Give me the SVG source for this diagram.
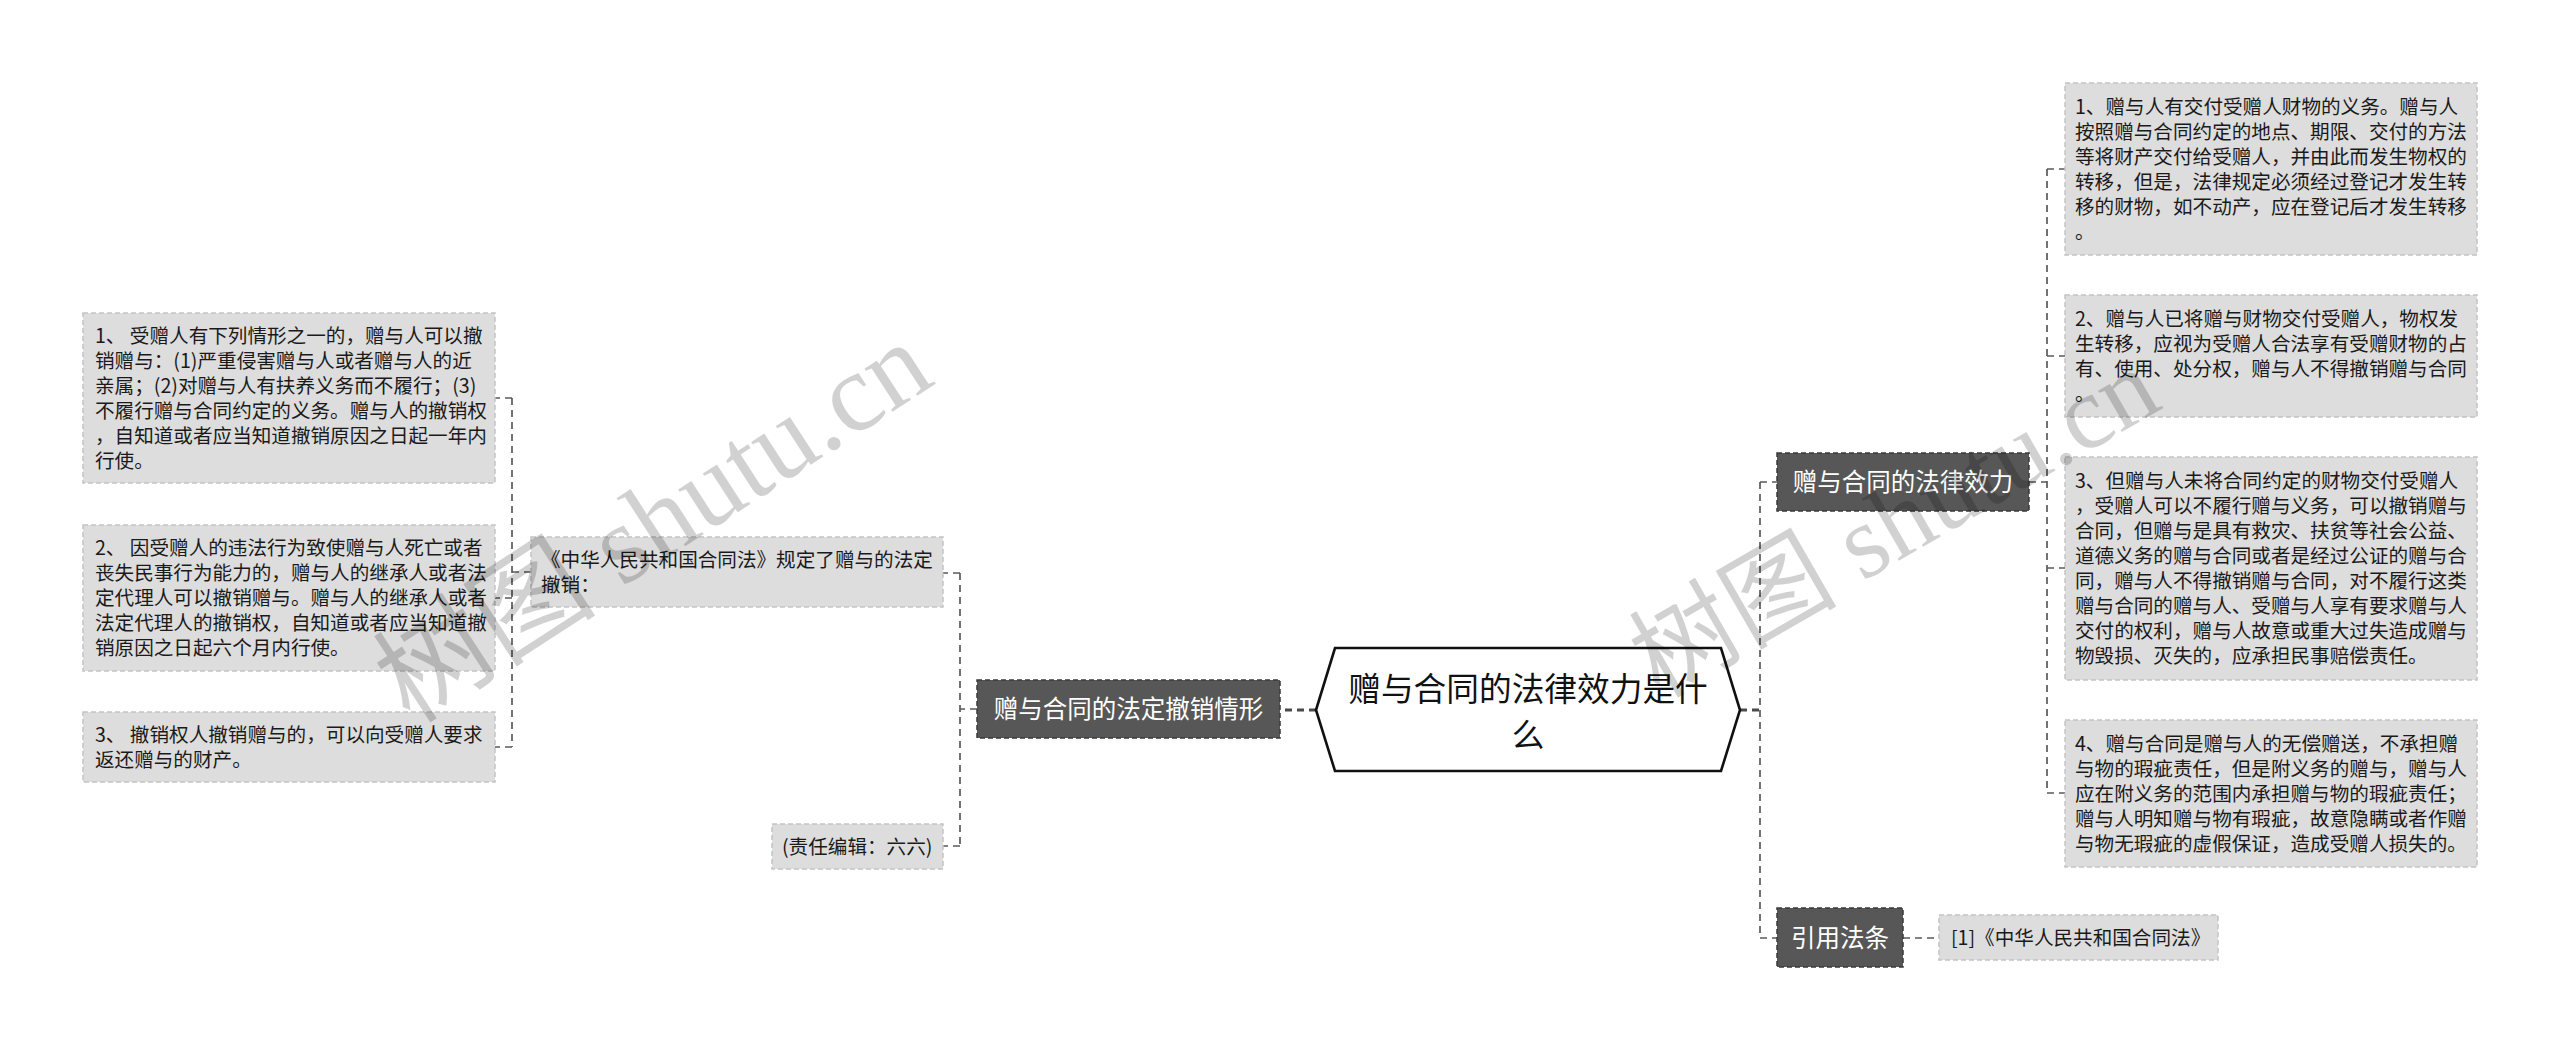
<svg xmlns="http://www.w3.org/2000/svg" width="2560" height="1051" viewBox="0 0 2560 1051">
<defs>
<style>
.bg{fill:#ffffff}
.leaf rect{fill:#dddddd;stroke:#c4c4c4;stroke-width:1.5;stroke-dasharray:5 3}
.leaf text{font-family:"Noto Sans CJK SC","Noto Sans",sans-serif;font-size:19.6px;fill:#1a1a1a}
.branch rect{fill:#575757;stroke:#3a3a3a;stroke-width:1.5;stroke-dasharray:5 3}
.branch text{font-family:"Noto Sans CJK SC","Noto Sans",sans-serif;font-size:24.5px;fill:#ffffff;text-anchor:middle}
.root polygon{fill:#ffffff;stroke:#111111;stroke-width:2.6}
.root text{font-family:"Noto Sans CJK SC","Noto Sans",sans-serif;font-size:32.7px;fill:#111111;text-anchor:middle}
.conn path{fill:none;stroke:#5a5a5a;stroke-width:1.7;stroke-dasharray:7 5}
.conn path.main{stroke:#4a4a4a;stroke-width:3}
.wm{font-family:"Liberation Serif","Noto Sans CJK SC",serif;fill:#000000;fill-opacity:0.18}
</style>
</defs>
<rect class="bg" x="0" y="0" width="2560" height="1051"/>

<g id="connectors" class="conn">
<path class="main" d="M1316,710 H1280"/>
<path d="M977,709 H960 M960,573 V846 M960,573 H943 M960,846 H943"/>
<path d="M531,572 H512 M512,398 V747 M512,398 H495 M512,598 H495 M512,747 H495"/>
<path class="main" d="M1740,710 H1760"/>
<path d="M1760,482 V938 M1760,482 H1777 M1760,938 H1777"/>
<path d="M1903,938 H1939"/>
<path d="M2029,482 H2047 M2047,169 V793 M2047,169 H2065 M2047,356 H2065 M2047,568 H2065 M2047,793 H2065"/>
</g>

<g id="root" class="root">
<polygon points="1316,710 1335,648 1721,648 1740,710 1721,771 1335,771"/>
<text x="1528" y="701">赠与合同的法律效力是什</text>
<text x="1528" y="747">么</text>
</g>

<g id="branch-revoke" class="branch">
<rect x="977" y="680" width="303" height="58"/>
<text x="1128.5" y="718">赠与合同的法定撤销情形</text>
</g>

<g id="branch-effect" class="branch">
<rect x="1777" y="453" width="252" height="58"/>
<text x="1903" y="491">赠与合同的法律效力</text>
</g>

<g id="branch-cite" class="branch">
<rect x="1777" y="908" width="126" height="59"/>
<text x="1840" y="947">引用法条</text>
</g>

<g id="node-law" class="leaf">
<rect x="531" y="537" width="412" height="70"/>
<text x="541" y="566.5">《中华人民共和国合同法》规定了赠与的法定</text>
<text x="541" y="591.5">撤销：</text>
</g>

<g id="node-editor" class="leaf">
<rect x="772" y="824" width="171" height="45"/>
<text x="782" y="854">(责任编辑：六六)</text>
</g>

<g id="node-l1" class="leaf">
<rect x="83" y="313" width="412" height="170"/>
<text x="95" y="342.5"><tspan x="95">1、 受赠人有下列情形之一的，赠与人可以撤</tspan><tspan x="95" dy="25">销赠与：(1)严重侵害赠与人或者赠与人的近</tspan><tspan x="95" dy="25">亲属；(2)对赠与人有扶养义务而不履行；(3)</tspan><tspan x="95" dy="25">不履行赠与合同约定的义务。赠与人的撤销权</tspan><tspan x="95" dy="25">，自知道或者应当知道撤销原因之日起一年内</tspan><tspan x="95" dy="25">行使。</tspan></text>
</g>

<g id="node-l2" class="leaf">
<rect x="83" y="525" width="412" height="146"/>
<text x="95" y="555"><tspan x="95">2、 因受赠人的违法行为致使赠与人死亡或者</tspan><tspan x="95" dy="25">丧失民事行为能力的，赠与人的继承人或者法</tspan><tspan x="95" dy="25">定代理人可以撤销赠与。赠与人的继承人或者</tspan><tspan x="95" dy="25">法定代理人的撤销权，自知道或者应当知道撤</tspan><tspan x="95" dy="25">销原因之日起六个月内行使。</tspan></text>
</g>

<g id="node-l3" class="leaf">
<rect x="83" y="712" width="412" height="70"/>
<text x="95" y="741.5"><tspan x="95">3、 撤销权人撤销赠与的，可以向受赠人要求</tspan><tspan x="95" dy="25">返还赠与的财产。</tspan></text>
</g>

<g id="node-r1" class="leaf">
<rect x="2065" y="83" width="412" height="172"/>
<text x="2075" y="113.5"><tspan x="2075">1、赠与人有交付受赠人财物的义务。赠与人</tspan><tspan x="2075" dy="25">按照赠与合同约定的地点、期限、交付的方法</tspan><tspan x="2075" dy="25">等将财产交付给受赠人，并由此而发生物权的</tspan><tspan x="2075" dy="25">转移，但是，法律规定必须经过登记才发生转</tspan><tspan x="2075" dy="25">移的财物，如不动产，应在登记后才发生转移</tspan><tspan x="2075" dy="25">。</tspan></text>
</g>

<g id="node-r2" class="leaf">
<rect x="2065" y="295" width="412" height="122"/>
<text x="2075" y="325.5"><tspan x="2075">2、赠与人已将赠与财物交付受赠人，物权发</tspan><tspan x="2075" dy="25">生转移，应视为受赠人合法享有受赠财物的占</tspan><tspan x="2075" dy="25">有、使用、处分权，赠与人不得撤销赠与合同</tspan><tspan x="2075" dy="25">。</tspan></text>
</g>

<g id="node-r3" class="leaf">
<rect x="2065" y="457" width="412" height="223"/>
<text x="2075" y="488"><tspan x="2075">3、但赠与人未将合同约定的财物交付受赠人</tspan><tspan x="2075" dy="25">，受赠人可以不履行赠与义务，可以撤销赠与</tspan><tspan x="2075" dy="25">合同，但赠与是具有救灾、扶贫等社会公益、</tspan><tspan x="2075" dy="25">道德义务的赠与合同或者是经过公证的赠与合</tspan><tspan x="2075" dy="25">同，赠与人不得撤销赠与合同，对不履行这类</tspan><tspan x="2075" dy="25">赠与合同的赠与人、受赠与人享有要求赠与人</tspan><tspan x="2075" dy="25">交付的权利，赠与人故意或重大过失造成赠与</tspan><tspan x="2075" dy="25">物毁损、灭失的，应承担民事赔偿责任。</tspan></text>
</g>

<g id="node-r4" class="leaf">
<rect x="2065" y="720" width="412" height="147"/>
<text x="2075" y="750.5"><tspan x="2075">4、赠与合同是赠与人的无偿赠送，不承担赠</tspan><tspan x="2075" dy="25">与物的瑕疵责任，但是附义务的赠与，赠与人</tspan><tspan x="2075" dy="25">应在附义务的范围内承担赠与物的瑕疵责任；</tspan><tspan x="2075" dy="25">赠与人明知赠与物有瑕疵，故意隐瞒或者作赠</tspan><tspan x="2075" dy="25">与物无瑕疵的虚假保证，造成受赠人损失的。</tspan></text>
</g>

<g id="node-cite" class="leaf">
<rect x="1939" y="915" width="279" height="45"/>
<text x="1951" y="945">[1]《中华人民共和国合同法》</text>
</g>

<g id="watermark">
<text class="wm" x="653" y="560" font-size="112" text-anchor="middle" transform="rotate(-33 653 522)">树图 shutu.cn</text>
<text class="wm" x="1894" y="558" font-size="104" text-anchor="middle" transform="rotate(-30 1894 522)">树图 shutu.cn</text>
</g>
</svg>
